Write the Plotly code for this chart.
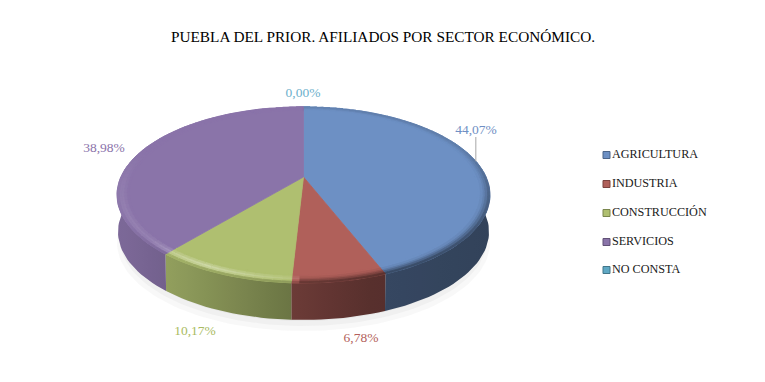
import math
import plotly.graph_objects as go

title = "PUEBLA DEL PRIOR. AFILIADOS POR SECTOR ECONÓMICO."
categories = ["AGRICULTURA", "INDUSTRIA", "CONSTRUCCIÓN", "SERVICIOS", "NO CONSTA"]
values = [44.07, 6.78, 10.17, 38.98, 0.00]
top_colors = ["#6d90c4", "#b0605a", "#afbf70", "#8a74a9", "#5fa8c4"]
label_colors = ["#6f8fc4", "#b35f5b", "#a9bb62", "#8a72aa", "#6db0cc"]
label_pos = [(476, 131), (361, 339), (195, 332), (104, 149), (303, 94)]
legend_y = [155, 184, 213, 242, 270]

FONT = "Liberation Serif"
CX, CY, A, B, K = 303.5, 177.0, 182.6, 84.5, 0.2025
DEPTH = 37.0
STEP = 2.5


def project(deg, r=1.0, dy=0.0, sx=1.0):
    t = math.radians(deg)
    X, Y = r * math.sin(t), r * math.cos(t)
    d = 1 + K * Y
    return CX + sx * A * X / d, CY - B * Y / d + dy


def arc(a0, a1, **kw):
    n = max(2, int(abs(a1 - a0) / 2) + 2)
    return [project(a0 + (a1 - a0) * i / (n - 1), **kw) for i in range(n)]


def rgb(h):
    return [int(h[i:i + 2], 16) for i in (1, 3, 5)]


def mix(c, f):
    if f <= 1:
        return [v * f for v in c]
    return [v + (255 - v) * (f - 1) for v in c]


def css(c):
    return "rgb(%d,%d,%d)" % tuple(round(min(255, max(0, v))) for v in c)


def lerp_table(x, table):
    for (x0, y0), (x1, y1) in zip(table, table[1:]):
        if x <= x1:
            return y0 + (y1 - y0) * (x - x0) / (x1 - x0)
    return table[-1][1]


SIDE = [(-1, .90), (-.64, .80), (-.1, .62), (.36, .50), (1, .46)]


def side_factor(deg):
    return lerp_table(math.sin(math.radians(deg)), SIDE)


fig = go.Figure()


def poly(pts, fill, line=True):
    xs = [p[0] for p in pts] + [pts[0][0]]
    ys = [p[1] for p in pts] + [pts[0][1]]
    fig.add_trace(go.Scatter(
        x=xs, y=ys, mode="lines", fill="toself", fillcolor=fill,
        line=dict(color=fill, width=0.8 if line else 0),
        hoverinfo="skip", showlegend=False))


# soft ground shadow
for grow, off, alpha in [(1.00, 48, .05), (.985, 45, .06), (.97, 42, .07), (.95, 40, .07)]:
    poly(arc(0, 360, r=grow, dy=off, sx=1.0), "rgba(120,120,120,%.2f)" % alpha, line=False)

# slice boundaries from the values
total = sum(values)
edges, acc = [], 0.0
for v in values:
    edges.append((acc, acc + v / total * 360))
    acc += v / total * 360

# wall: only the part of each slice that faces the viewer, with a left-to-right gradient
for (a0, a1), col in zip(edges, top_colors):
    lo, hi = max(a0, 90.0), min(a1, 270.0)
    if hi <= lo:
        continue
    c = rgb(col)
    pts = arc(lo, hi) + arc(hi, lo, dy=DEPTH, sx=.995)
    xs = [p[0] for p in pts] + [pts[0][0]]
    ys = [p[1] for p in pts] + [pts[0][1]]
    x0, x1 = min(xs), max(xs)
    stops = []
    for i in range(7):
        frac = i / 6
        sine = (x0 + (x1 - x0) * frac - CX) / A
        stops.append([frac, css(mix(c, lerp_table(max(-1, min(1, sine)), SIDE)))])
    fig.add_trace(go.Scatter(
        x=xs, y=ys, mode="lines", fill="toself", line=dict(width=0),
        fillgradient=dict(type="horizontal", colorscale=stops),
        hoverinfo="skip", showlegend=False))

# top surface
for (a0, a1), col, name in zip(edges, top_colors, categories):
    if a1 <= a0:
        continue
    pts = [(CX, CY)] + arc(a0, a1)
    poly(pts, col)

# bevel on the rim
RINGS = [.935, .95, .965, .975, .988, 1.0]
for (a0, a1), col in zip(edges, top_colors):
    if a1 <= a0:
        continue
    c = rgb(col)
    a = a0
    while a < a1 - 1e-6:
        b = min(a + STEP, a1)
        mid = math.radians((a + b) / 2)
        front = max(0.0, -math.cos(mid) * .75 + .25)
        s = math.sin(mid)
        damp = max(.2, 1 - max(0.0, -s - .45) * 2.6)
        glow = 1 + .95 * max(0.0, -s + .1) * front * damp
        edge_f = side_factor((a + b) / 2)
        for i in range(len(RINGS) - 1):
            t = i / (len(RINGS) - 2)
            if s > 0:
                f = 1 + (edge_f - 1) * t ** 1.6 * (.25 + .75 * front)
            elif t < .6:
                f = 1 + (glow - 1) * (t / .6)
            else:
                f = glow + (edge_f * .6 + .45 - glow) * ((t - .6) / .4) * min(1.0, front * 1.3)
            pts = arc(a, b, r=RINGS[i]) + arc(b, a, r=RINGS[i + 1])
            poly(pts, css(mix(c, f)))
        a = b

# leader line of the first label
lx, ly0 = project(78.8)
fig.add_trace(go.Scatter(x=[lx, lx], y=[137, ly0], mode="lines",
                         line=dict(color="#a6a6a6", width=1),
                         hoverinfo="skip", showlegend=False))

# data labels
for v, (x, y), col, name in zip(values, label_pos, label_colors, categories):
    fig.add_trace(go.Scatter(
        x=[x], y=[y], mode="text", text=[("%.2f%%" % v).replace(".", ",")],
        textposition="middle center", textfont=dict(family=FONT, size=13.5, color=col),
        hoverinfo="skip", showlegend=False, name=name))

# legend
for name, y, col in zip(categories, legend_y, top_colors):
    fig.add_trace(go.Scatter(
        x=[606.5], y=[y], mode="markers+text", text=[name], textposition="middle right",
        marker=dict(symbol="square", size=7, color=col,
                    line=dict(color=css(mix(rgb(col), .7)), width=1)),
        textfont=dict(family=FONT, size=12.2, color="#1a1a1a"),
        hoverinfo="skip", showlegend=False))

fig.update_layout(
    width=765, height=382, margin=dict(l=0, r=0, t=0, b=0),
    paper_bgcolor="white", plot_bgcolor="white", showlegend=False,
    xaxis=dict(range=[0, 765], visible=False, fixedrange=True),
    yaxis=dict(range=[382, 0], visible=False, fixedrange=True),
    title=dict(text=title, x=383 / 765, xanchor="center", y=1 - 37 / 382, yanchor="middle",
               font=dict(family=FONT, size=15.3, color="#000000")),
)
fig.write_html("out.html", config={"displayModeBar": False},
               post_script="document.body.style.margin='0';document.documentElement.style.overflow='hidden';")
